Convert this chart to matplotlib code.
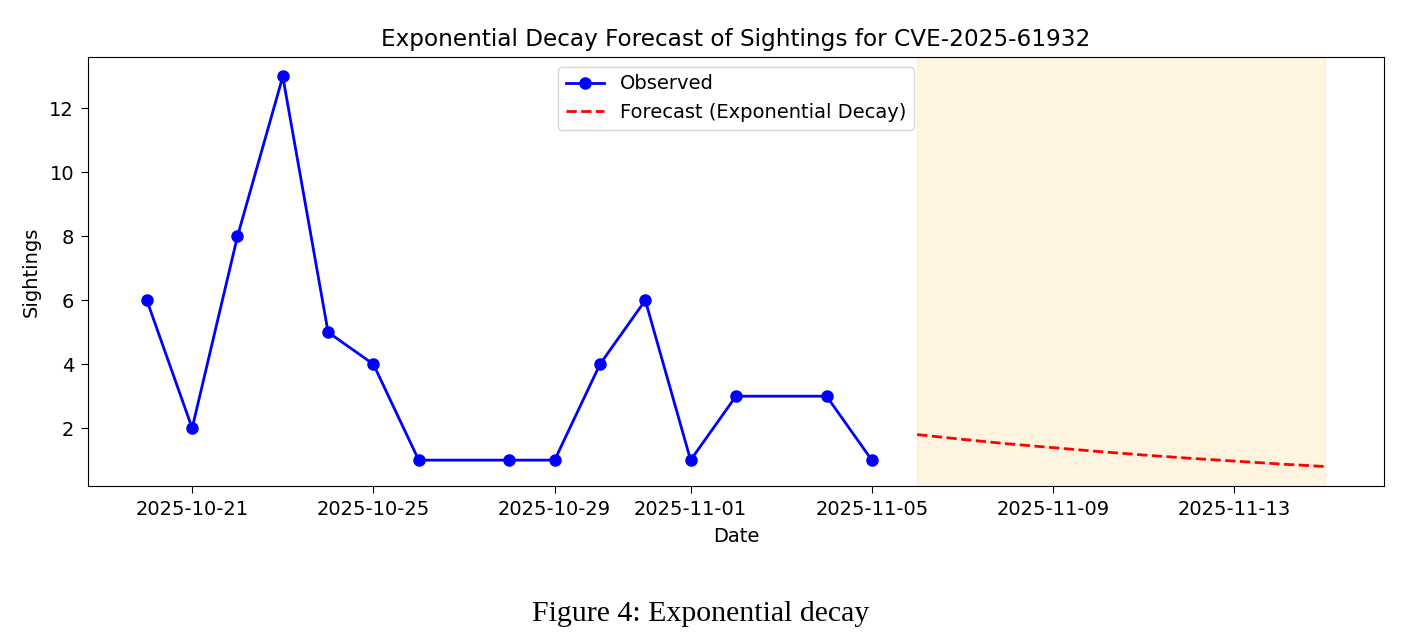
import pandas as pd
import matplotlib
matplotlib.use('Agg')
import matplotlib.pyplot as plt

# observed sightings
obs_dates = ['2025-10-20', '2025-10-21', '2025-10-22', '2025-10-23', '2025-10-24',
             '2025-10-25', '2025-10-26', '2025-10-28', '2025-10-29', '2025-10-30',
             '2025-10-31', '2025-11-01', '2025-11-02', '2025-11-04', '2025-11-05']
obs_values = [6, 2, 8, 13, 5, 4, 1, 1, 1, 4, 6, 1, 3, 3, 1]

# forecast values
fc_dates = ['2025-11-06', '2025-11-07', '2025-11-08', '2025-11-09', '2025-11-10',
            '2025-11-11', '2025-11-12', '2025-11-13', '2025-11-14', '2025-11-15']
fc_values = [1.80, 1.65, 1.51, 1.39, 1.27, 1.16, 1.06, 0.97, 0.88, 0.80]

obs_dates = pd.to_datetime(obs_dates)
fc_dates = pd.to_datetime(fc_dates)

fig = plt.figure(figsize=(14.07, 6.44), dpi=100)
ax = fig.add_axes([0.0625, 0.2453, 0.9211, 0.6662])

ax.plot(obs_dates, obs_values, marker='o', color='blue', linewidth=2, markersize=8, label='Observed')
ax.plot(fc_dates, fc_values, linestyle='--', color='red', linewidth=2, label='Forecast (Exponential Decay)')
ax.axvspan(fc_dates[0], fc_dates[-1], color='orange', alpha=0.12)

ax.set_title('Exponential Decay Forecast of Sightings for CVE-2025-61932', fontsize=16.7, pad=8)
ax.set_xlabel('Date', fontsize=14, labelpad=6)
ax.set_ylabel('Sightings', fontsize=14, labelpad=6)
ax.tick_params(labelsize=14, length=5, pad=5)
ax.legend(loc='upper center', fontsize=14)

fig.text(0.498, 0.035, 'Figure 4: Exponential decay', ha='center', fontsize=21.5,
         family='Liberation Serif')

fig.savefig('out.png', dpi=100)
